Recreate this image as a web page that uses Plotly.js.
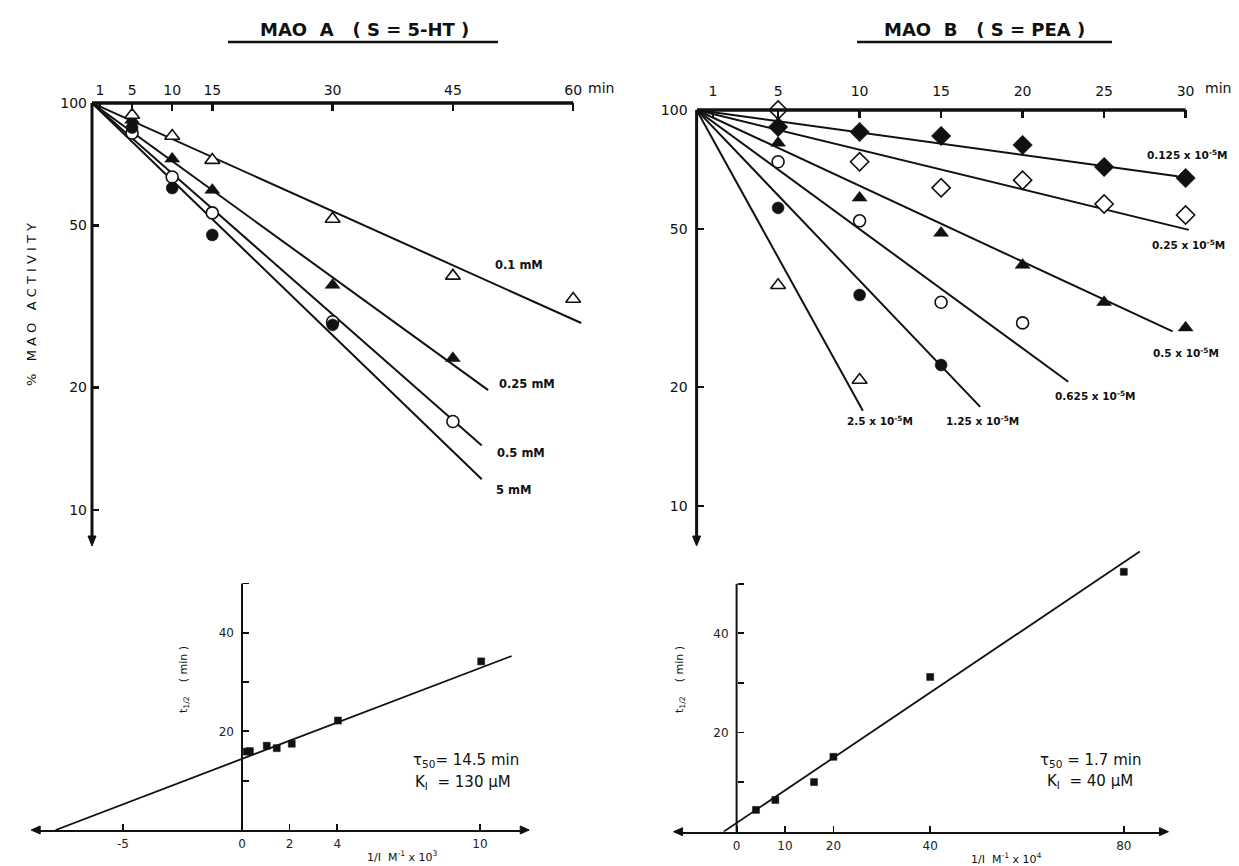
<!DOCTYPE html>
<html>
<head>
<meta charset="utf-8">
<script src="https://cdn.plot.ly/plotly-3.0.1.min.js"></script>
<style>html,body{margin:0;padding:0;background:#fff;}#chart{width:1239px;height:866px;}</style>
</head>
<body>
<div id="chart"></div>
<script>
// ---------------- DATA ----------------
// Panel A: MAO A (S = 5-HT), % MAO activity vs time (min)
const timesA = [5, 10, 15, 30, 45, 60];
const a_01mM  = [93.4, 83.0, 72.4, 51.9, 37.6, 33.0];   // open triangles, 0.1 mM
const a_025mM = [90.8, 72.9, 61.1, 35.7, 23.6];         // filled triangles, 0.25 mM
const a_05mM  = [84.4, 65.8, 53.7, 29.0, 16.5];         // open circles, 0.5 mM
const a_5mM   = [87.0, 61.8, 47.4, 28.5];               // filled circles, 5 mM
const fitA_labels = ['0.1 mM', '0.25 mM', '0.5 mM', '5 mM'];
const fitA_start  = [0, 100];
const fitA_endT   = [61.0, 49.4, 48.6, 48.6];
const fitA_endV   = [28.8, 19.7, 14.4, 11.9];
const tickA_vals  = [1, 5, 10, 15, 30, 45, 60];

// Panel B: MAO B (S = PEA)
const timesB = [5, 10, 15, 20, 25, 30];
const b_0125 = [90.6, 88.0, 86.0, 81.6, 71.8, 67.3];   // filled diamonds
const b_025  = [100, 74.0, 63.6, 66.5, 57.9, 54.3];    // open diamonds
const b_05   = [82.6, 60.0, 48.9, 40.6, 32.7, 28.2];   // filled triangles
const b_0625 = [74.0, 52.5, 32.7, 29.0];               // open circles
const b_125  = [56.6, 34.1, 22.7];                     // filled circles
const b_25   = [36.1, 20.8];                           // open triangles
const fitB_labels = ['0.125', '0.25', '0.5', '0.625', '1.25', '2.5'];
const fitB_start  = [0, 100];
const fitB_endT   = [29.5, 30.2, 29.2, 22.8, 17.4, 10.2];
const fitB_endV   = [68.0, 49.8, 27.6, 20.6, 17.8, 17.4];
const tickB_vals  = [1, 5, 10, 15, 20, 25, 30];

// Panel C: t1/2 vs 1/I (M^-1 x 10^3), MAO A
const invIA  = [0.2, 0.33, 1.04, 1.46, 2.09, 4.03, 10.05];
const thalfA = [15.9, 16.0, 17.1, 16.6, 17.5, 22.2, 34.2];
const fitC_x = [-7.83, 11.33];
const fitC_y = [0, 35.3];
const tickC_vals = [-5, 0, 2, 4, 10];
const tickC_text = ['-5', '0', '2', '4', '10'];

// Panel D: t1/2 vs 1/I (M^-1 x 10^4), MAO B
const invIB  = [4, 8, 16, 20, 40, 80];
const thalfB = [4.4, 6.4, 10.0, 15.1, 31.2, 52.4];
const fitD_x = [-2.69, 83.3];
const fitD_y = [0, 56.5];
const tickD_vals = [0, 10, 20, 40, 80];
const tickD_text = ['0', '10', '20', '40', '80'];
const tickT_vals = [20, 40];
const tickT_minor = [10, 30, 50];

// ---------------- LAYOUT HELPERS ----------------
const W = 1239, H = 866;
const FX = px => px / W;
const FY = py => 1 - py / H;
const FONT = 'DejaVu Sans, Arial, sans-serif';
const BLK = '#111';

const traces = [];
function fitLine(xa, ya, xs, ys, w) {
  traces.push({type: 'scatter', mode: 'lines', x: xs, y: ys, xaxis: xa, yaxis: ya,
    line: {color: BLK, width: w}, hoverinfo: 'skip', showlegend: false});
}
function pts(xa, ya, xs, ys, sym, filled, size) {
  traces.push({type: 'scatter', mode: 'markers', x: xs, y: ys, xaxis: xa, yaxis: ya, cliponaxis: false,
    marker: {symbol: sym, size: size, color: filled ? BLK : '#fff', line: {color: BLK, width: filled ? 0.5 : 1.6}},
    showlegend: false});
}

// Panel A lines + markers
for (let i = 0; i < fitA_endT.length; i++) fitLine('x', 'y', [fitA_start[0], fitA_endT[i]], [fitA_start[1], fitA_endV[i]], 2);
pts('x', 'y', timesA.slice(0, a_05mM.length), a_05mM, 'circle', false, 12);
pts('x', 'y', timesA.slice(0, a_5mM.length), a_5mM, 'circle', true, 12);
pts('x', 'y', timesA.slice(0, a_025mM.length), a_025mM, 'triangle-up', true, 13);
pts('x', 'y', timesA, a_01mM, 'triangle-up', false, 13);

// Panel B lines + markers
for (let i = 0; i < fitB_endT.length; i++) fitLine('x2', 'y2', [fitB_start[0], fitB_endT[i]], [fitB_start[1], fitB_endV[i]], 2);
pts('x2', 'y2', timesB, b_0125, 'diamond', true, 15);
pts('x2', 'y2', timesB, b_025, 'diamond', false, 14);
pts('x2', 'y2', timesB, b_05, 'triangle-up', true, 13);
pts('x2', 'y2', timesB.slice(0, b_0625.length), b_0625, 'circle', false, 12);
pts('x2', 'y2', timesB.slice(0, b_125.length), b_125, 'circle', true, 12);
pts('x2', 'y2', timesB.slice(0, b_25.length), b_25, 'triangle-up', false, 13);

// Panel C
fitLine('x3', 'y3', fitC_x, fitC_y, 1.8);
pts('x3', 'y3', invIA, thalfA, 'square', true, 7);
// Panel D
fitLine('x4', 'y4', fitD_x, fitD_y, 1.8);
pts('x4', 'y4', invIB, thalfB, 'square', true, 7);

// axis geometry (pixels)
const A = {x0: 92, pxPerMin: 8.02, tmax: 64, yTop: 103, yBot: 540, dec: 407};
const B = {x0: 696.6, pxPerMin: 16.3, tmax: 32.5, yTop: 110, yBot: 540, dec: 396};
const C = {x0: 242, ppu: 23.8, xmin: -8.69, xmax: 11.9, y0: 830, ppy: 4.93, ymax: 50.5};
const D = {x0: 736.6, ppu: 4.84, xmin: -12.2, xmax: 88.4, y0: 831.7, ppy: 4.96, ymax: 57};

const tickFont = {family: FONT, size: 14, color: BLK};
const smallFont = {family: FONT, size: 12, color: '#222'};
const minorT = {tickvals: tickT_minor, ticks: 'inside', ticklen: 6, tickwidth: 1.8, tickcolor: BLK, showgrid: false};

const layout = {
  width: W, height: H, margin: {l: 0, r: 0, t: 0, b: 0},
  paper_bgcolor: '#fff', plot_bgcolor: 'rgba(0,0,0,0)', showlegend: false,
  xaxis: {domain: [FX(A.x0), FX(A.x0 + A.pxPerMin * A.tmax)], range: [0, A.tmax], anchor: 'y', side: 'top',
    tickvals: tickA_vals, ticks: 'inside', ticklen: 8, tickwidth: 2.5, tickcolor: BLK,
    showline: false, showgrid: false, zeroline: false, tickfont: tickFont, ticklabelstandoff: 4},
  yaxis: {domain: [FY(A.yBot), FY(A.yTop)], type: 'log', range: [2 - (A.yBot - A.yTop) / A.dec, 2], anchor: 'x',
    tickvals: [10, 20, 50, 100], ticktext: ['10', '20', '50', '100'], ticks: 'inside', ticklen: 7, tickwidth: 2.5, tickcolor: BLK,
    showline: false, showgrid: false, zeroline: false, tickfont: tickFont, ticklabelstandoff: 4},
  xaxis2: {domain: [FX(B.x0), FX(B.x0 + B.pxPerMin * B.tmax)], range: [0, B.tmax], anchor: 'y2', side: 'top',
    tickvals: tickB_vals, ticks: 'inside', ticklen: 8, tickwidth: 2.5, tickcolor: BLK,
    showline: false, showgrid: false, zeroline: false, tickfont: tickFont, ticklabelstandoff: 10},
  yaxis2: {domain: [FY(B.yBot), FY(B.yTop)], type: 'log', range: [2 - (B.yBot - B.yTop) / B.dec, 2], anchor: 'x2',
    tickvals: [10, 20, 50, 100], ticktext: ['10', '20', '50', '100'], ticks: 'inside', ticklen: 7, tickwidth: 2.5, tickcolor: BLK,
    showline: false, showgrid: false, zeroline: false, tickfont: tickFont, ticklabelstandoff: 8},
  xaxis3: {domain: [FX(C.x0 + C.xmin * C.ppu), FX(C.x0 + C.xmax * C.ppu)], range: [C.xmin, C.xmax], anchor: 'y3',
    tickvals: tickC_vals, ticktext: tickC_text, ticks: 'inside', ticklen: 6, tickwidth: 1.8, tickcolor: BLK,
    showline: true, linecolor: BLK, linewidth: 2, showgrid: false, zeroline: false, tickfont: smallFont, ticklabelstandoff: 2},
  yaxis3: {domain: [FY(C.y0), FY(C.y0 - C.ymax * C.ppy)], range: [0, C.ymax], anchor: 'free',
    position: FX(C.x0), tickvals: tickT_vals, ticks: 'inside', ticklen: 6, tickwidth: 1.8, tickcolor: BLK, minor: minorT,
    showline: false, showgrid: false, zeroline: false, tickfont: smallFont, ticklabelstandoff: 8},
  xaxis4: {domain: [FX(D.x0 + D.xmin * D.ppu), FX(D.x0 + D.xmax * D.ppu)], range: [D.xmin, D.xmax], anchor: 'y4',
    tickvals: tickD_vals, ticktext: tickD_text, ticks: 'inside', ticklen: 6, tickwidth: 1.8, tickcolor: BLK,
    showline: true, linecolor: BLK, linewidth: 2, showgrid: false, zeroline: false, tickfont: smallFont, ticklabelstandoff: 2},
  yaxis4: {domain: [FY(D.y0), FY(D.y0 - D.ymax * D.ppy)], range: [0, D.ymax], anchor: 'free',
    position: FX(D.x0), tickvals: tickT_vals, ticks: 'inside', ticklen: 6, tickwidth: 1.8, tickcolor: BLK, minor: minorT,
    showline: false, showgrid: false, zeroline: false, tickfont: smallFont, ticklabelstandoff: 8},
  shapes: [
    // top-left axes
    {type: 'line', xref: 'x', yref: 'y domain', x0: 0, x1: 60, y0: 1, y1: 1, line: {color: BLK, width: 3.5}},
    {type: 'line', xref: 'x domain', yref: 'y domain', x0: 0, x1: 0, y0: 0, y1: 1, line: {color: BLK, width: 3}},
    // top-right axes
    {type: 'line', xref: 'x2', yref: 'y2 domain', x0: 0, x1: 30, y0: 1, y1: 1, line: {color: BLK, width: 3.5}},
    {type: 'line', xref: 'x2 domain', yref: 'y2 domain', x0: 0, x1: 0, y0: 0, y1: 1, line: {color: BLK, width: 3}},
    // bottom y axes
    {type: 'line', xref: 'x3', yref: 'y3', x0: 0, x1: 0, y0: 0, y1: 50, line: {color: BLK, width: 2}},
    {type: 'line', xref: 'x4', yref: 'y4', x0: 0, x1: 0, y0: 0, y1: 50, line: {color: BLK, width: 2}},
    // title underlines
    {type: 'line', xref: 'paper', yref: 'paper', x0: FX(228), x1: FX(498), y0: FY(42), y1: FY(42), line: {color: BLK, width: 2.5}},
    {type: 'line', xref: 'paper', yref: 'paper', x0: FX(857), x1: FX(1112), y0: FY(42), y1: FY(42), line: {color: BLK, width: 2.5}}
  ],
  annotations: []
};

// arrowheads drawn as small filled triangles (pixel geometry -> paper)
function tri(p1, p2, p3) {
  const pt = p => FX(p[0]).toFixed(5) + ',' + FY(p[1]).toFixed(5);
  layout.shapes.push({type: 'path', xref: 'paper', yref: 'paper',
    path: 'M' + pt(p1) + ' L' + pt(p2) + ' L' + pt(p3) + ' Z', fillcolor: BLK, line: {color: BLK, width: 1}});
}
tri([92, 546], [88, 536], [96, 536]);
tri([696.6, 546], [692.6, 536], [700.6, 536]);
const cL = C.x0 + C.xmin * C.ppu, cR = C.x0 + C.xmax * C.ppu;
tri([cL - 4, C.y0], [cL + 5, C.y0 - 4], [cL + 5, C.y0 + 4]);
tri([cR + 4, C.y0], [cR - 5, C.y0 - 4], [cR - 5, C.y0 + 4]);
const dL = D.x0 + D.xmin * D.ppu, dR = D.x0 + D.xmax * D.ppu;
tri([dL - 4, D.y0], [dL + 5, D.y0 - 4], [dL + 5, D.y0 + 4]);
tri([dR + 4, D.y0], [dR - 5, D.y0 - 4], [dR - 5, D.y0 + 4]);

function note(text, px, py, size, opts) {
  layout.annotations.push(Object.assign({text: text, xref: 'paper', yref: 'paper', x: FX(px), y: FY(py),
    showarrow: false, xanchor: 'center', yanchor: 'middle', font: {family: FONT, size: size, color: BLK}}, opts || {}));
}

// titles
note('<b>MAO  A   ( S = 5-HT )</b>', 364, 30, 18);
note('<b>MAO  B   ( S = PEA )</b>', 984, 30, 18);
note('%   M A O   A C T I V I T Y', 31, 305, 13, {textangle: -90});
note('min', 601, 88, 14);
note('min', 1218, 88, 14);

// curve labels panel A
const labA_pos = [[519, 265], [527, 384], [521, 453], [513, 490]];
fitA_labels.forEach((t, i) => note('<b>' + t + '</b>', labA_pos[i][0], labA_pos[i][1], 11.5));
// curve labels panel B
const labB_pos = [[1187, 155], [1188, 245], [1186, 352], [1095, 395], [983, 420], [880, 420]];
fitB_labels.forEach((t, i) => note('<b>' + t + ' x 10<sup>-5</sup>M</b>', labB_pos[i][0], labB_pos[i][1], 10.5));

// bottom panel texts
note('1/I  M<sup>-1</sup> x 10<sup>3</sup>', 402, 856, 11);
note('1/I  M<sup>-1</sup> x 10<sup>4</sup>', 1006, 858, 11);
note('t<sub>1/2</sub>    ( min )', 184, 680, 11, {textangle: -90});
note('t<sub>1/2</sub>    ( min )', 680, 680, 11, {textangle: -90});
note('τ<sub>50</sub>= 14.5 min', 466, 760, 15);
note('K<sub>I</sub>  = 130 µM', 463, 782, 15);
note('τ<sub>50</sub> = 1.7 min', 1090, 760, 15);
note('K<sub>I</sub>  = 40 µM', 1090, 781, 15);

Plotly.newPlot('chart', traces, layout, {staticPlot: true, displayModeBar: false});
</script>
</body>
</html>
